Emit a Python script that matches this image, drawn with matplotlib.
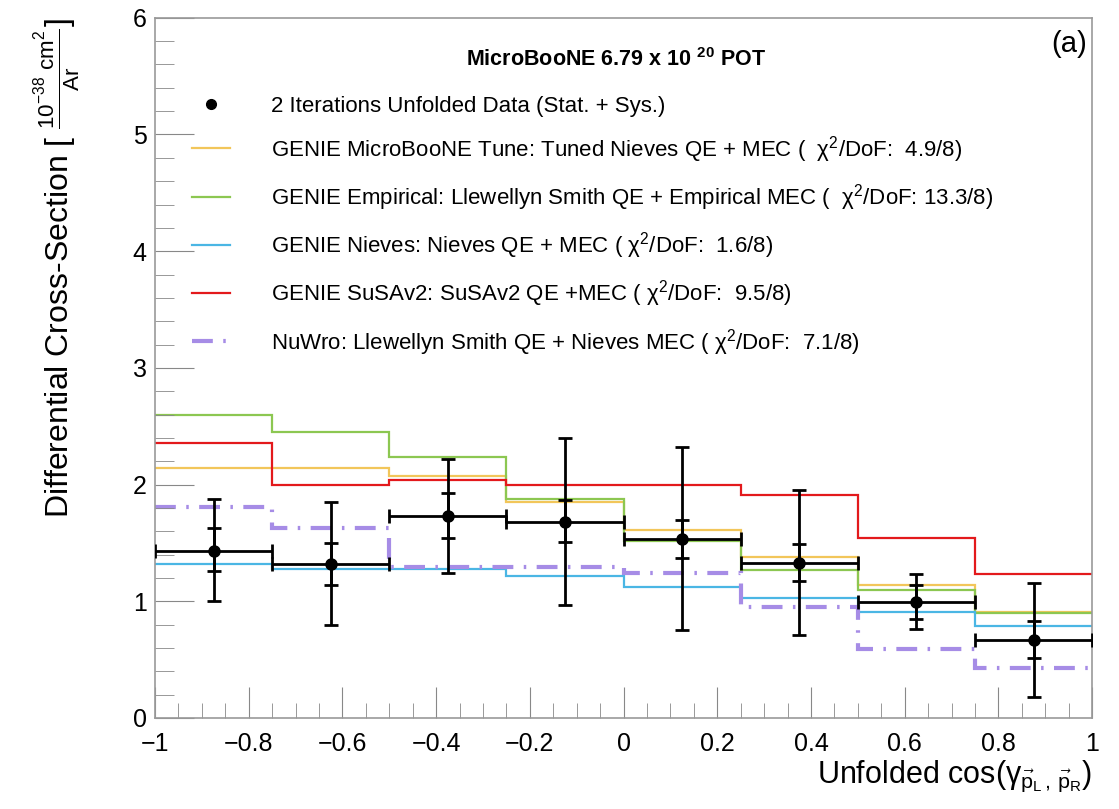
import matplotlib.pyplot as plt
import numpy as np
from matplotlib.lines import Line2D

plt.rcParams['font.family'] = ['Liberation Sans', 'DejaVu Sans']
plt.rcParams['mathtext.fontset'] = 'custom'
plt.rcParams['mathtext.rm'] = 'Liberation Sans'
plt.rcParams['mathtext.it'] = 'Liberation Sans:italic'
plt.rcParams['mathtext.bf'] = 'Liberation Sans:bold'

# bins in cos(gamma)
edges = np.arange(-1, 1.001, 0.25)
centers = (edges[:-1] + edges[1:]) / 2

# unfolded data
data = [1.43, 1.32, 1.73, 1.68, 1.53, 1.33, 0.99, 0.67]
tot_hi = [1.88, 1.85, 2.22, 2.40, 2.32, 1.95, 1.23, 1.16]
tot_lo = [1.00, 0.80, 1.24, 0.97, 0.75, 0.71, 0.76, 0.18]
stat_hi = [1.63, 1.50, 1.93, 1.87, 1.70, 1.49, 1.14, 0.83]
stat_lo = [1.26, 1.14, 1.54, 1.51, 1.37, 1.17, 0.85, 0.51]

# generator predictions
tune = [2.14, 2.14, 2.07, 1.85, 1.61, 1.38, 1.14, 0.91]
empirical = [2.60, 2.45, 2.24, 1.88, 1.52, 1.27, 1.10, 0.90]
nieves = [1.32, 1.28, 1.28, 1.22, 1.12, 1.03, 0.91, 0.79]
susav2 = [2.36, 2.00, 2.04, 2.00, 2.00, 1.91, 1.54, 1.23]
nuwro = [1.81, 1.63, 1.29, 1.29, 1.24, 0.95, 0.59, 0.43]

labels = ['GENIE MicroBooNE Tune: Tuned Nieves QE + MEC (  χ$^{2}$/DoF:  4.9/8)',
          'GENIE Empirical: Llewellyn Smith QE + Empirical MEC (  χ$^{2}$/DoF: 13.3/8)',
          'GENIE Nieves: Nieves QE + MEC ( χ$^{2}$/DoF:  1.6/8)',
          'GENIE SuSAv2: SuSAv2 QE +MEC ( χ$^{2}$/DoF:  9.5/8)',
          'NuWro: Llewellyn Smith QE + Nieves MEC ( χ$^{2}$/DoF:  7.1/8)']

fig = plt.figure(figsize=(11.19, 8.09), dpi=100)
ax = fig.add_axes([0.1385, 0.1125, 0.9760 - 0.1385, 0.978 - 0.1125])

ax.stairs(tune, edges, baseline=None, color='#f2c65a', lw=1.6)
ax.stairs(empirical, edges, baseline=None, color='#8cc751', lw=1.6)
ax.stairs(nieves, edges, baseline=None, color='#4ab6e4', lw=1.6)
ax.stairs(susav2, edges, baseline=None, color='#e3191c', lw=1.6)
nuwro_ls = (0, (5, 2.5, 0.6, 2.5))
ax.stairs(nuwro, edges, baseline=None, color='#a68ce6', lw=3, linestyle=nuwro_ls)

data = np.array(data)
yerr_tot = [data - np.array(tot_lo), np.array(tot_hi) - data]
yerr_stat = [data - np.array(stat_lo), np.array(stat_hi) - data]
ax.errorbar(centers, data, xerr=0.125, yerr=yerr_tot, fmt='o', color='black',
            ms=8, lw=2, capsize=5, capthick=2, zorder=5)
ax.errorbar(centers, data, yerr=yerr_stat, fmt='none', color='black',
            lw=2, capsize=5, capthick=2, zorder=5)

ax.set_xlim(-1, 1)
ax.set_ylim(0, 6)
ax.set_xticks(np.arange(-1, 1.01, 0.2))
ax.set_xticklabels(['\u22121', '\u22120.8', '\u22120.6', '\u22120.4', '\u22120.2', '0',
                    '0.2', '0.4', '0.6', '0.8', '1'])
ax.set_xticks(np.arange(-1, 1.01, 0.05), minor=True)
ax.set_yticks(np.arange(0, 6.1, 1))
ax.set_yticks(np.arange(0, 6.01, 0.2), minor=True)
ax.tick_params(which='both', direction='in', top=False, right=False, color='#888888',
               labelsize=18, pad=6)
ax.tick_params(axis='x', which='both', pad=10)
ax.tick_params(which='major', length=22)
ax.tick_params(which='minor', length=11)
ax.tick_params(axis='y', which='major', length=28)
ax.tick_params(axis='y', which='minor', length=14)
for s in ax.spines.values():
    s.set_color('#999999')
    s.set_linewidth(1.2)

ax.set_xlabel('Unfolded cos(γ$_{\\vec{\\mathrm{p}}_{\\mathrm{L}}\\,,\\,\\vec{\\mathrm{p}}_{\\mathrm{R}}}$)',
              fontsize=22, loc='right', labelpad=2)
ax.set_ylabel('Differential Cross-Section [ $\\frac{10^{-38}\\ \\mathrm{cm}^{2}}{\\mathrm{Ar}}$]',
              fontsize=23, loc='top', labelpad=36)

ax.text(0.492, 0.94, 'MicroBooNE 6.79 x 10 $^{\\mathbf{20}}$ POT', transform=ax.transAxes,
        ha='center', va='center', fontsize=15.5, fontweight='bold')
ax.text(0.995, 0.962, '(a)', transform=ax.transAxes, ha='right', va='center', fontsize=21)

handles = [Line2D([], [], marker='o', color='black', ls='none', ms=7),
           Line2D([], [], color='#f2c65a', lw=1.6),
           Line2D([], [], color='#8cc751', lw=1.6),
           Line2D([], [], color='#4ab6e4', lw=1.6),
           Line2D([], [], color='#e3191c', lw=1.6),
           Line2D([], [], color='#a68ce6', lw=3, linestyle=nuwro_ls)]
leg_labels = ['2 Iterations Unfolded Data (Stat. + Sys.)'] + labels
ax.legend(handles, leg_labels, loc='upper left', bbox_to_anchor=(0.0395, 0.889),
          frameon=False, fontsize=16, handlelength=1.7, handletextpad=1.85,
          labelspacing=0.78, borderpad=0, borderaxespad=0)

fig.savefig('out.png', dpi=100)
